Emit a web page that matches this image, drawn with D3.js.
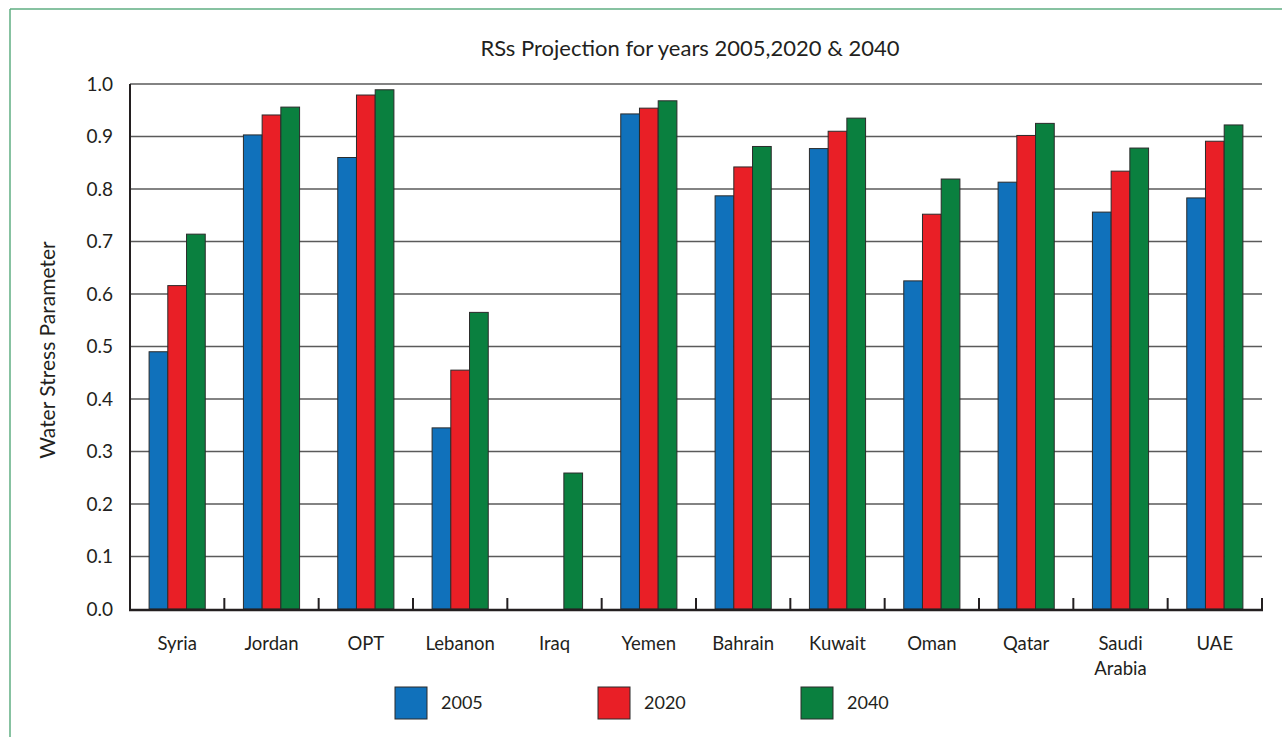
<!DOCTYPE html>
<html>
<head>
<meta charset="utf-8">
<script src="https://cdn.jsdelivr.net/npm/d3@7"></script>
<style>
  html, body { margin: 0; padding: 0; background: #fff; }
  svg { display: block; }
  text { font-family: Lato, "Open Sans", sans-serif; fill: #231f20; }
</style>
</head>
<body>
<svg id="chart" width="1282" height="737"></svg>
<script>
// Water stress parameter by country for three projection years
const countries = ["Syria", "Jordan", "OPT", "Lebanon", "Iraq", "Yemen", "Bahrain", "Kuwait", "Oman", "Qatar", "Saudi Arabia", "UAE"];
const years = ["2005", "2020", "2040"];
const values2005 = [0.49, 0.903, 0.860, 0.345, null, 0.943, 0.787, 0.877, 0.625, 0.813, 0.756, 0.783];
const values2020 = [0.616, 0.941, 0.979, 0.455, null, 0.954, 0.842, 0.910, 0.752, 0.902, 0.834, 0.891];
const values2040 = [0.714, 0.956, 0.989, 0.565, 0.259, 0.968, 0.881, 0.935, 0.819, 0.925, 0.878, 0.922];
const yTicks = [0, 0.1, 0.2, 0.3, 0.4, 0.5, 0.6, 0.7, 0.8, 0.9, 1.0];
const colors = ["#1071bb", "#e91f26", "#0a803f"];

const series = [values2005, values2020, values2040];

const svg = d3.select("#chart");
const margin = { left: 130, right: 1262, top: 84, bottom: 609 };

// frame lines on the left and top edges
svg.append("line").attr("x1", 10).attr("x2", 10).attr("y1", 9).attr("y2", 737)
  .attr("stroke", "#5fae82").attr("stroke-width", 1.5);
svg.append("line").attr("x1", 10).attr("x2", 1282).attr("y1", 9).attr("y2", 9)
  .attr("stroke", "#5fae82").attr("stroke-width", 1.5);

const x0 = d3.scaleBand().domain(countries).range([margin.left, margin.right]).paddingInner(0).paddingOuter(0);
const x1 = d3.scaleBand().domain(years).range([0, x0.bandwidth()]).paddingOuter(1.02).paddingInner(0);
const y = d3.scaleLinear().domain([0, 1]).range([margin.bottom, margin.top]);

// horizontal gridlines
svg.append("g").selectAll("line").data(yTicks.filter(d => d > 0)).join("line")
  .attr("x1", margin.left).attr("x2", margin.right)
  .attr("y1", d => y(d)).attr("y2", d => y(d))
  .attr("stroke", "#5a5a5a").attr("stroke-width", 1.5);

// y tick labels
svg.append("g").selectAll("text").data(yTicks).join("text")
  .attr("x", 113).attr("y", d => y(d))
  .attr("dy", "0.35em").attr("text-anchor", "end")
  .attr("font-size", 19)
  .text(d => d3.format(".1f")(d));

// bars
const groups = svg.append("g").selectAll("g").data(countries).join("g")
  .attr("transform", c => `translate(${x0(c)},0)`);
groups.selectAll("rect")
  .data((c, i) => years.map((yr, k) => ({ yr, k, v: series[k][i] })).filter(d => d.v != null))
  .join("rect")
  .attr("x", d => x1(d.yr))
  .attr("width", x1.bandwidth())
  .attr("y", d => y(d.v))
  .attr("height", d => y(0) - y(d.v))
  .attr("fill", d => colors[d.k])
  .attr("stroke", "#2b2b2b").attr("stroke-width", 1);

// axes lines
svg.append("line").attr("x1", margin.left).attr("x2", margin.left)
  .attr("y1", margin.top).attr("y2", margin.bottom + 1)
  .attr("stroke", "#231f20").attr("stroke-width", 2);
svg.append("line").attr("x1", margin.left - 1).attr("x2", margin.right + 1)
  .attr("y1", margin.bottom + 1).attr("y2", margin.bottom + 1)
  .attr("stroke", "#231f20").attr("stroke-width", 2.5);

// category separator ticks
svg.append("g").selectAll("line").data(countries).join("line")
  .attr("x1", c => x0(c) + x0.bandwidth()).attr("x2", c => x0(c) + x0.bandwidth())
  .attr("y1", margin.bottom + 1).attr("y2", margin.bottom - 11)
  .attr("stroke", "#231f20").attr("stroke-width", 2);

// category labels
const labels = svg.append("g").selectAll("text").data(countries).join("text")
  .attr("x", c => x0(c) + x0.bandwidth() / 2)
  .attr("y", 650)
  .attr("text-anchor", "middle")
  .attr("font-size", 18.5);
labels.each(function (c) {
  const words = c === "Saudi Arabia" ? ["Saudi", "Arabia"] : [c];
  d3.select(this).selectAll("tspan").data(words).join("tspan")
    .attr("x", x0(c) + x0.bandwidth() / 2)
    .attr("dy", (w, i) => i === 0 ? 0 : 25)
    .text(w => w);
});

// title
svg.append("text").attr("x", 690).attr("y", 56).attr("text-anchor", "middle")
  .attr("font-size", 22).text("RSs Projection for years 2005,2020 & 2040");

// y axis title
svg.append("text").attr("transform", "translate(55,350) rotate(-90)")
  .attr("text-anchor", "middle").attr("font-size", 21).text("Water Stress Parameter");

// legend
const legendX = [395, 598, 801];
const legend = svg.append("g").selectAll("g").data(years).join("g")
  .attr("transform", (d, i) => `translate(${legendX[i]},687)`);
legend.append("rect").attr("width", 32).attr("height", 32)
  .attr("fill", (d, i) => colors[i]).attr("stroke", "#2b2b2b").attr("stroke-width", 1);
legend.append("text").attr("x", 46).attr("y", 16).attr("dy", "0.35em")
  .attr("font-size", 18).text(d => d);
</script>
</body>
</html>
